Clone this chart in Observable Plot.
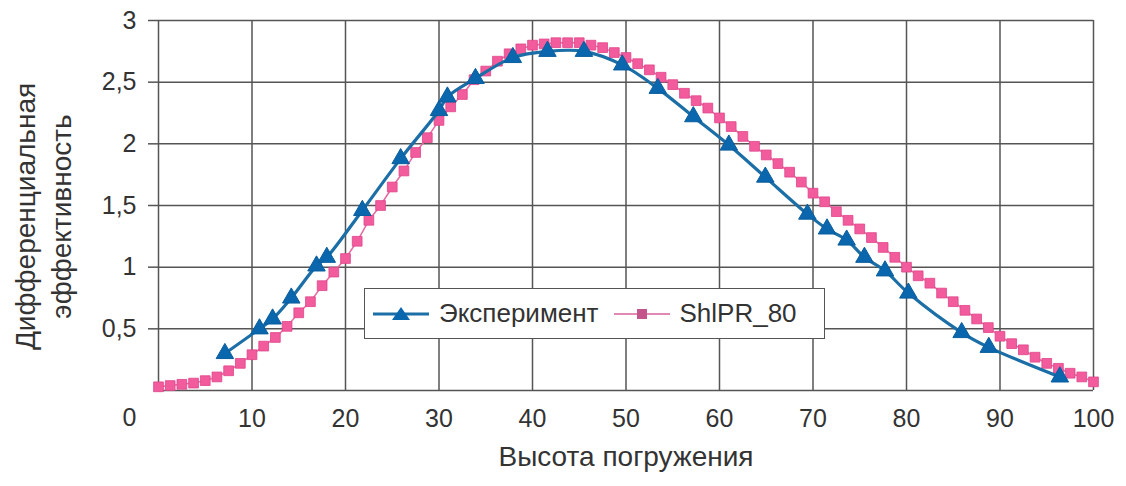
<!DOCTYPE html>
<html>
<head>
<meta charset="utf-8">
<script src="https://cdn.jsdelivr.net/npm/d3@7"></script>
<script src="https://cdn.jsdelivr.net/npm/@observablehq/plot@0.6"></script>
<style>
  html, body { margin: 0; padding: 0; background: #fff; }
  #wrap { position: relative; width: 1126px; height: 486px; font-family: "Liberation Sans", Arial, sans-serif; }
  #legend { position: absolute; left: 364px; top: 288px; width: 459px; height: 49px; border: 1.5px solid #555; background: #fff; display: flex; align-items: center; color: #333; font-size: 26px; }
  #legend .item { display: flex; align-items: center; }
  #legend svg { display: block; }
</style>
</head>
<body>
<div id="wrap"></div>
<script>
// ---- data ----
const seriesNames = ["Эксперимент", "ShlPR_80"];
const xLabel = "Высота погружения";
const yLabelLines = ["Дифференциальная", "эффективность"];
const xTicks = [0, 10, 20, 30, 40, 50, 60, 70, 80, 90, 100];
const yTicks = [0, 0.5, 1, 1.5, 2, 2.5, 3];

const expX = [7.1, 10.8, 12.2, 14.2, 16.9, 18.0, 21.8, 25.9, 30.0, 30.9, 33.9, 37.9, 41.6, 45.5, 49.6, 53.4, 57.2, 61.0, 64.9, 69.4, 71.5, 73.6, 75.5, 77.7, 80.2, 85.9, 88.8, 96.4];
const expY = [0.30, 0.50, 0.58, 0.75, 1.01, 1.08, 1.46, 1.88, 2.27, 2.38, 2.53, 2.70, 2.75, 2.75, 2.64, 2.45, 2.22, 1.99, 1.73, 1.43, 1.31, 1.22, 1.08, 0.97, 0.79, 0.47, 0.35, 0.11];

const modX = [0, 1.25, 2.5, 3.75, 5, 6.25, 7.5, 8.75, 10, 11.25, 12.5, 13.75, 15, 16.25, 17.5, 18.75, 20, 21.25, 22.5, 23.75, 25, 26.25, 27.5, 28.75, 30, 31.25, 32.5, 33.75, 35, 36.25, 37.5, 38.75, 40, 41.25, 42.5, 43.75, 45, 46.25, 47.5, 48.75, 50, 51.25, 52.5, 53.75, 55, 56.25, 57.5, 58.75, 60, 61.25, 62.5, 63.75, 65, 66.25, 67.5, 68.75, 70, 71.25, 72.5, 73.75, 75, 76.25, 77.5, 78.75, 80, 81.25, 82.5, 83.75, 85, 86.25, 87.5, 88.75, 90, 91.25, 92.5, 93.75, 95, 96.25, 97.5, 98.75, 100];
const modY = [0.03, 0.04, 0.05, 0.06, 0.08, 0.11, 0.16, 0.22, 0.29, 0.36, 0.43, 0.52, 0.63, 0.72, 0.85, 0.96, 1.07, 1.21, 1.38, 1.50, 1.65, 1.78, 1.93, 2.05, 2.19, 2.30, 2.40, 2.52, 2.59, 2.67, 2.73, 2.77, 2.80, 2.81, 2.82, 2.82, 2.82, 2.80, 2.78, 2.74, 2.70, 2.65, 2.60, 2.54, 2.48, 2.41, 2.35, 2.29, 2.21, 2.14, 2.06, 1.98, 1.91, 1.84, 1.77, 1.69, 1.60, 1.53, 1.45, 1.38, 1.31, 1.24, 1.16, 1.08, 1.00, 0.93, 0.87, 0.79, 0.72, 0.65, 0.58, 0.51, 0.44, 0.38, 0.33, 0.27, 0.22, 0.18, 0.14, 0.11, 0.07];

const exp = expX.map((x, i) => ({x, y: expY[i]}));
const mod = modX.map((x, i) => ({x, y: modY[i]}));

const blueLine = "#1b6ea6", blueFill = "#0a66ad", pinkLine = "#e56aa2", pinkFill = "#f25c9d";
const gridColor = "#555";
const fmt = d => String(d).replace(".", ",");

const chart = Plot.plot({
  width: 1126, height: 486,
  marginLeft: 158, marginRight: 33, marginTop: 20, marginBottom: 96,
  x: {domain: [0, 100]},
  y: {domain: [0, 3]},
  style: {fontFamily: "'Liberation Sans', Arial, sans-serif", fontSize: "25px", color: "#333", background: "white", overflow: "visible"},
  marks: [
    Plot.gridX(xTicks, {stroke: gridColor, strokeWidth: 1.5, strokeOpacity: 1}),
    Plot.gridY(yTicks, {stroke: gridColor, strokeWidth: 1.5, strokeOpacity: 1}),
    Plot.axisY(yTicks.filter(d => d > 0), {tickSize: 10, tickPadding: 12, tickFormat: fmt, stroke: gridColor, strokeWidth: 1.5, fill: "#333", fontSize: 25, label: null}),
    Plot.axisY([0], {tickSize: 0, tickPadding: 22, dy: 27, tickFormat: fmt, fill: "#333", fontSize: 25, label: null}),
    Plot.axisX(xTicks.filter(d => d > 0), {tickSize: 0, tickPadding: 19, fill: "#333", fontSize: 25, label: null}),
    Plot.text([xLabel], {frameAnchor: "bottom", dy: 75, text: d => d, fontSize: 28, fill: "#333"}),
    Plot.text([yLabelLines[0]], {frameAnchor: "left", textAnchor: "middle", lineAnchor: "middle", dx: -132, dy: 11, rotate: -90, text: d => d, fontSize: 28, fill: "#333"}),
    Plot.text([yLabelLines[1]], {frameAnchor: "left", textAnchor: "middle", lineAnchor: "middle", dx: -96, dy: 11, rotate: -90, text: d => d, fontSize: 28, fill: "#333"}),
    Plot.line(mod, {x: "x", y: "y", stroke: pinkLine, strokeWidth: 1.5}),
    Plot.dot(mod, {x: "x", y: "y", symbol: "square", r: 5.5, fill: pinkFill, stroke: "#e0448a", strokeWidth: 0.8}),
    Plot.line(exp, {x: "x", y: "y", stroke: blueLine, strokeWidth: 3.2, curve: "catmull-rom"}),
    Plot.dot(exp, {x: "x", y: "y", symbol: "triangle", r: 6.5, fill: blueFill, stroke: "#0a5e9e", strokeWidth: 1})
  ]
});

const wrap = document.getElementById("wrap");
wrap.appendChild(chart);

const legend = document.createElement("div");
legend.id = "legend";
legend.innerHTML = `
  <div class="item" style="margin-left:8px">
    <svg width="56" height="22"><line x1="0" y1="11" x2="56" y2="11" stroke="${blueLine}" stroke-width="3"/>
      <path d="M28,4 L37,17 L19,17 Z" fill="${blueFill}"/></svg>
    <span style="margin-left:10px">${seriesNames[0]}</span>
  </div>
  <div class="item" style="margin-left:16px">
    <svg width="56" height="22"><line x1="0" y1="11" x2="56" y2="11" stroke="#d8629a" stroke-width="1.5"/>
      <rect x="23" y="6" width="10" height="10" fill="#c4558c"/></svg>
    <span style="margin-left:9px">${seriesNames[1]}</span>
  </div>`;
wrap.appendChild(legend);
</script>
</body>
</html>
